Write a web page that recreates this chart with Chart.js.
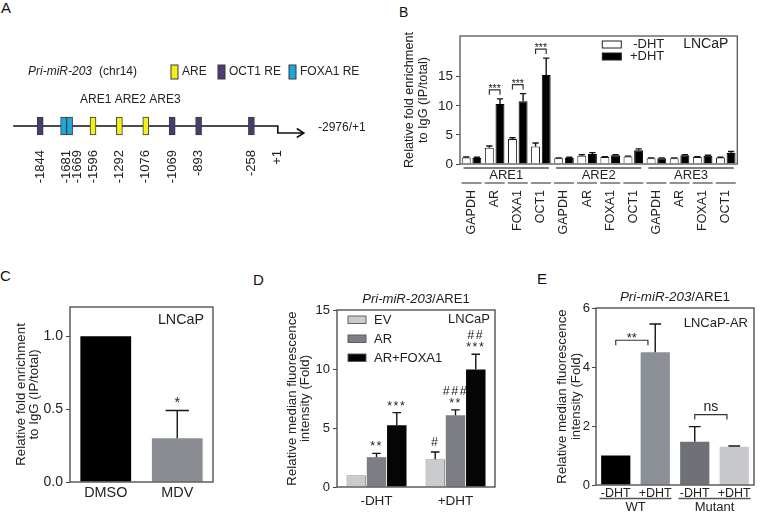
<!DOCTYPE html>
<html>
<head>
<meta charset="utf-8">
<script src="https://cdn.jsdelivr.net/npm/chart.js@4.4.1/dist/chart.umd.min.js"></script>
<style>
  html, body { margin: 0; padding: 0; background: #fff; }
  body { position: relative; width: 767px; height: 517px; overflow: hidden; font-family: "Liberation Sans", Arial, sans-serif; }
  .panel { position: absolute; }
  .tag { position: absolute; font-size: 15px; line-height: 1; color: #111; }
</style>
</head>
<body>
<div class="tag" style="left:1px;top:0px">A</div>
<div class="tag" style="left:399px;top:5px;font-size:14px">B</div>
<div class="tag" style="left:0px;top:268px">C</div>
<div class="tag" style="left:253px;top:272px">D</div>
<div class="tag" style="left:537px;top:271px">E</div>
<div class="panel" style="left:0;top:0;width:380px;height:260px"><canvas id="panelA"></canvas></div>
<div class="panel" style="left:380px;top:0;width:387px;height:260px"><canvas id="panelB"></canvas></div>
<div class="panel" style="left:0;top:260px;width:260px;height:257px"><canvas id="panelC"></canvas></div>
<div class="panel" style="left:260px;top:260px;width:270px;height:257px"><canvas id="panelD"></canvas></div>
<div class="panel" style="left:530px;top:260px;width:237px;height:257px"><canvas id="panelE"></canvas></div>
<script>
// ---------- A: response elements in the pri-miR-203 promoter (schematic slots, left to right)
const siteLabels = ['-1844', ['-1681', '-1669'], '-1596', '-1292', '-1076', '-1069', '-893', '', '-258', '+1'];
const areSites   = [0, 0, 1, 1, 1, 0, 0, 0, 0, 0];
const oct1Sites  = [1, 0, 0, 0, 0, 1, 1, 0, 1, 0];
const foxa1Sites = [0, 2, 0, 0, 0, 0, 0, 0, 0, 0]; // two adjacent FOXA1 REs

// ---------- B: ChIP, relative fold enrichment to IgG
const chipRegions = ['ARE1', 'ARE2', 'ARE3'];
const chipTargets = ['GAPDH', 'AR', 'FOXA1', 'OCT1'];
const chipMinus    = [1.1, 2.8, 4.3, 3.0,   1.0, 1.4, 1.2, 1.3,   1.0, 1.0, 1.2, 1.1];
const chipMinusErr = [0.1, 0.3, 0.2, 0.6,   0.05, 0.2, 0.05, 0.05, 0.05, 0.05, 0.05, 0.05];
const chipPlus     = [1.05, 10.3, 10.8, 15.3, 1.05, 1.7, 1.5, 2.35, 1.0, 1.5, 1.4, 1.9];
const chipPlusErr  = [0.1, 0.9, 1.3, 2.9,   0.1, 0.25, 0.1, 0.25,  0.05, 0.1, 0.1, 0.25];
const chipSig      = ['', '***', '***', '***', '', '', '', '', '', '', '', ''];

// ---------- C: ChIP after MDV treatment
const cTreat  = ['DMSO', 'MDV'];
const cValues = [1.0, 0.30];
const cErr    = [0, 0.19];
const cSig    = ['', '*'];

// ---------- D: reporter, LNCaP
const dConditions = ['-DHT', '+DHT'];
const dEV  = [1.0, 2.35],  dEVErr  = [0, 0.62],    dEVStars  = ['', ''],      dEVHash  = ['', '#'];
const dAR  = [2.53, 6.08], dARErr  = [0.32, 0.46], dARStars  = ['**', '**'],  dARHash  = ['', '###'];
const dARF = [5.23, 9.95], dARFErr = [1.07, 1.3],  dARFStars = ['***', '***'], dARFHash = ['', '##'];

// ---------- E: reporter, LNCaP-AR, WT vs mutant ARE1
const eLabels   = ['-DHT', '+DHT', '-DHT', '+DHT'];
const eGroups   = ['WT', 'Mutant'];
const eValues   = [1.0, 4.5, 1.47, 1.3];
const eErr      = [0, 0.96, 0.51, 0.02];
const eBrackets = [[0, 1, '**'], [2, 3, 'ns']];

const FAM = '"Liberation Sans", Arial, Helvetica, sans-serif';
const f = (size, style) => (style || '') + ' ' + size + 'px ' + FAM;
Chart.defaults.font.family = FAM;
Chart.defaults.color = '#222';

const base = {
  responsive: true,
  maintainAspectRatio: false,
  animation: false,
  events: []
};
const keepSteps = step => axis => {
  axis.ticks = axis.ticks.filter(t => Math.abs(t.value / step - Math.round(t.value / step)) < 1e-6);
};
const yTitle = (lines, size, lh, pad) => ({
  display: true, text: lines, color: '#222',
  font: { size: size, lineHeight: lh + 'px' }, padding: { top: pad, bottom: 0 }
});

// whiskers from bar top up to value + error
const errorBars = {
  id: 'errorBars',
  afterDatasetsDraw(chart, args, opts) {
    const ctx = chart.ctx, y = chart.scales.y;
    chart.data.datasets.forEach((ds, i) => {
      if (!ds.errors) return;
      chart.getDatasetMeta(i).data.forEach((bar, j) => {
        const e = ds.errors[j];
        if (!e) return;
        const top = y.getPixelForValue(ds.data[j] + e);
        const w = bar.width * opts.cap / 2;
        ctx.save();
        ctx.strokeStyle = '#151515';
        ctx.lineWidth = 1.4;
        ctx.beginPath();
        ctx.moveTo(bar.x, bar.y);
        ctx.lineTo(bar.x, top);
        ctx.moveTo(bar.x - w, top);
        ctx.lineTo(bar.x + w, top);
        ctx.stroke();
        ctx.restore();
      });
    });
  }
};

const frame = {
  id: 'frame',
  afterDraw(chart, args, opts) {
    const a = chart.chartArea, ctx = chart.ctx;
    ctx.save();
    ctx.strokeStyle = opts.color;
    ctx.lineWidth = 1.3;
    ctx.strokeRect(a.left, a.top, a.right - a.left, a.bottom - a.top);
    ctx.restore();
  }
};

function bracket(ctx, x1, x2, top, label, font) {
  ctx.strokeStyle = '#333';
  ctx.lineWidth = 1.2;
  ctx.beginPath();
  ctx.moveTo(x1, top + 5); ctx.lineTo(x1, top); ctx.lineTo(x2, top); ctx.lineTo(x2, top + 5);
  ctx.stroke();
  ctx.fillStyle = '#222';
  ctx.font = font;
  ctx.textAlign = 'center';
  ctx.textBaseline = 'alphabetic';
  const stars = /^\*+$/.test(label);
  ctx.fillText(label, (x1 + x2) / 2, stars ? top + 2 : top - 4);
}

function italicTitle(ctx, cx, cy, size) {
  const a = 'Pri-miR-203', b = '/ARE1';
  ctx.font = f(size, 'italic'); const wa = ctx.measureText(a).width;
  ctx.font = f(size); const wb = ctx.measureText(b).width;
  let x = cx - (wa + wb) / 2;
  ctx.fillStyle = '#222';
  ctx.textAlign = 'left';
  ctx.textBaseline = 'middle';
  ctx.font = f(size, 'italic'); ctx.fillText(a, x, cy);
  ctx.font = f(size); ctx.fillText(b, x + wa, cy);
}

// ================= A =================
const boxData = (arr, n) => arr.map(v => v >= n ? [-1, 1] : null);
new Chart(document.getElementById('panelA'), {
  type: 'bar',
  data: {
    labels: siteLabels,
    datasets: [
      { label: 'ARE', data: boxData(areSites, 1), backgroundColor: '#f3ee1c' },
      { label: 'OCT1 RE', data: boxData(oct1Sites, 1), backgroundColor: '#4b3b72' },
      { label: 'FOXA1 RE', data: boxData(foxa1Sites, 1), backgroundColor: '#1fa6dd' },
      { label: 'FOXA1 RE', data: boxData(foxa1Sites, 2), backgroundColor: '#1fa6dd' }
    ]
  },
  options: {
    ...base,
    layout: { padding: { left: 27, right: 89, top: 108, bottom: 0 } },
    datasets: { bar: { barThickness: 6, skipNull: true, borderWidth: 1, borderColor: '#3a3a3a', borderSkipped: false } },
    scales: {
      x: {
        grid: { display: false, drawTicks: false }, border: { display: false },
        ticks: { autoSkip: false, minRotation: 90, maxRotation: 90, padding: 6, color: '#222', font: { size: 13, lineHeight: '10.5px' } },
        afterFit: s => { s.height = 116; }
      },
      y: { display: false, min: -2, max: 2 }
    },
    plugins: { legend: { display: false }, tooltip: { enabled: false } }
  },
  plugins: [{
    id: 'promoter',
    beforeDatasetsDraw(chart) {
      const ctx = chart.ctx, x = chart.scales.x, y0 = chart.scales.y.getPixelForValue(0);
      const start = x.getPixelForValue(0) - 27, end = x.getPixelForValue(siteLabels.length - 1);
      ctx.save();
      ctx.strokeStyle = '#111';
      ctx.lineWidth = 1.6;
      ctx.beginPath();
      ctx.moveTo(start, y0); ctx.lineTo(end, y0); ctx.lineTo(end, y0 + 7); ctx.lineTo(end + 26, y0 + 7);
      ctx.moveTo(end + 19, y0 + 2.5); ctx.lineTo(end + 26, y0 + 7); ctx.lineTo(end + 19, y0 + 11.5);
      ctx.stroke();
      ctx.restore();
    },
    afterDraw(chart) {
      const ctx = chart.ctx, y0 = chart.scales.y.getPixelForValue(0);
      const ds = chart.data.datasets;
      ctx.save();
      ctx.fillStyle = '#222';
      ctx.textBaseline = 'middle';
      ctx.font = f(12);
      ctx.fillText('-2976/+1', 318, y0 + 2);
      ctx.fillText('ARE1 ARE2 ARE3', 80, 100);
      ctx.font = f(12, 'italic');
      ctx.fillText('Pri-miR-203', 28, 72);
      const w = ctx.measureText('Pri-miR-203').width;
      ctx.font = f(12);
      ctx.fillText('(chr14)', 28 + w + 7, 72);
      const items = [[ds[0], 171], [ds[1], 218], [ds[2], 289]];
      items.forEach(([d, lx]) => {
        ctx.fillStyle = d.backgroundColor;
        ctx.fillRect(lx, 65, 7, 14);
        ctx.strokeStyle = '#3a3a3a';
        ctx.lineWidth = 1;
        ctx.strokeRect(lx, 65, 7, 14);
        ctx.fillStyle = '#222';
        ctx.fillText(d.label, lx + 11, 72);
      });
      ctx.restore();
    }
  }]
});

// ================= B =================
new Chart(document.getElementById('panelB'), {
  type: 'bar',
  data: {
    labels: chipRegions.flatMap(() => chipTargets),
    datasets: [
      { label: '-DHT', data: chipMinus, errors: chipMinusErr, backgroundColor: '#fff', borderColor: '#222', borderWidth: 1 },
      { label: '+DHT', data: chipPlus, errors: chipPlusErr, backgroundColor: '#000', borderColor: '#000', borderWidth: 1 }
    ]
  },
  options: {
    ...base,
    layout: { padding: { left: 0, top: 36, right: 6, bottom: 0 } },
    datasets: { bar: { categoryPercentage: 0.92, barPercentage: 0.84 } },
    scales: {
      x: {
        grid: { display: false, drawTicks: false }, border: { display: false },
        ticks: { autoSkip: false, minRotation: 90, maxRotation: 90, padding: 26, color: '#222', font: { size: 12.5 } },
        afterFit: s => { s.height = 96; }
      },
      y: {
        min: 0, max: 22,
        ticks: { stepSize: 5, padding: 3, color: '#222', font: { size: 13.5 } },
        afterBuildTicks: keepSteps(5),
        grid: { drawOnChartArea: false, tickLength: 4, color: '#444' },
        border: { display: false },
        title: yTitle(['Relative fold enrichment', 'to IgG (IP/total)'], 12.7, 14, 22),
        afterFit: s => { s.width = 80; }
      }
    },
    plugins: { legend: { display: false }, tooltip: { enabled: false }, errorBars: { cap: 0.7 }, frame: { color: '#555' } }
  },
  plugins: [errorBars, frame, {
    id: 'chipDecor',
    afterDraw(chart) {
      const ctx = chart.ctx, a = chart.chartArea, x = chart.scales.x, y = chart.scales.y;
      const m0 = chart.getDatasetMeta(0).data, m1 = chart.getDatasetMeta(1).data;
      ctx.save();
      // legend
      chart.data.datasets.forEach((ds, i) => {
        const top = a.top + 5 + i * 12;
        ctx.fillStyle = ds.backgroundColor;
        ctx.fillRect(a.right - 135, top, 19, 7);
        ctx.strokeStyle = '#222';
        ctx.lineWidth = 1;
        ctx.strokeRect(a.right - 135, top, 19, 7);
        ctx.fillStyle = '#222';
        ctx.font = f(13);
        ctx.textAlign = 'right';
        ctx.textBaseline = 'middle';
        ctx.fillText(ds.label, a.right - 73, top + 3.5);
      });
      ctx.font = f(14);
      ctx.fillText('LNCaP', a.right - 9, a.top + 8);
      // significance brackets
      chipSig.forEach((s, j) => {
        if (!s) return;
        const top = Math.min(y.getPixelForValue(chipMinus[j] + chipMinusErr[j]), y.getPixelForValue(chipPlus[j] + chipPlusErr[j])) - 9;
        bracket(ctx, m0[j].x, m1[j].x, top, s, f(10.5));
      });
      // region and target underlines
      ctx.strokeStyle = '#555';
      ctx.lineWidth = 1.3;
      ctx.fillStyle = '#222';
      ctx.font = f(13);
      ctx.textAlign = 'center';
      ctx.textBaseline = 'middle';
      chipRegions.forEach((r, g) => {
        const x1 = x.getPixelForValue(g * 4) - 8, x2 = x.getPixelForValue(g * 4 + 3) + 8;
        ctx.beginPath(); ctx.moveTo(x1, a.bottom + 4); ctx.lineTo(x2, a.bottom + 4); ctx.stroke();
        ctx.fillText(r, (x1 + x2) / 2, a.bottom + 11.5);
      });
      x.ticks.forEach((t, i) => {
        const cx = x.getPixelForValue(i);
        ctx.beginPath(); ctx.moveTo(cx - 10, a.bottom + 19); ctx.lineTo(cx + 10, a.bottom + 19); ctx.stroke();
      });
      ctx.restore();
    }
  }]
});

// ================= C =================
new Chart(document.getElementById('panelC'), {
  type: 'bar',
  data: {
    labels: cTreat,
    datasets: [{ data: cValues, errors: cErr, backgroundColor: ['#000', '#8a8e94'] }]
  },
  options: {
    ...base,
    layout: { padding: { left: 0, top: 47, right: 47, bottom: 0 } },
    datasets: { bar: { categoryPercentage: 1, barPercentage: 0.71 } },
    scales: {
      x: {
        grid: { display: false, drawTicks: false }, border: { display: false },
        ticks: { padding: 2.5, color: '#222', font: { size: 14.4 } },
        afterFit: s => { s.height = 35; }
      },
      y: {
        min: 0, max: 1.2,
        ticks: { stepSize: 0.5, padding: 3, color: '#222', font: { size: 14 }, callback: v => v.toFixed(1) },
        afterBuildTicks: keepSteps(0.5),
        grid: { drawOnChartArea: false, tickLength: 4, color: '#444' },
        border: { display: false },
        title: yTitle(['Relative fold enrichment', 'to IgG (IP/total)'], 13.3, 13, 14.5),
        afterFit: s => { s.width = 70; }
      }
    },
    plugins: { legend: { display: false }, tooltip: { enabled: false }, errorBars: { cap: 0.46 }, frame: { color: '#444' } }
  },
  plugins: [errorBars, frame, {
    id: 'cDecor',
    afterDraw(chart) {
      const ctx = chart.ctx, a = chart.chartArea, y = chart.scales.y;
      const bars = chart.getDatasetMeta(0).data;
      ctx.save();
      ctx.fillStyle = '#222';
      ctx.font = f(14.3);
      ctx.textAlign = 'right';
      ctx.textBaseline = 'middle';
      ctx.fillText('LNCaP', a.right - 9, a.top + 13);
      ctx.textAlign = 'center';
      ctx.textBaseline = 'alphabetic';
      cSig.forEach((s, j) => {
        if (s) ctx.fillText(s, bars[j].x, y.getPixelForValue(cValues[j] + cErr[j]) - 3.5);
      });
      ctx.restore();
    }
  }]
});

// ================= D =================
new Chart(document.getElementById('panelD'), {
  type: 'bar',
  data: {
    labels: dConditions,
    datasets: [
      { label: 'EV', data: dEV, errors: dEVErr, stars: dEVStars, hashes: dEVHash, backgroundColor: '#c9cbce', borderColor: '#8d9094', borderWidth: 1 },
      { label: 'AR', data: dAR, errors: dARErr, stars: dARStars, hashes: dARHash, backgroundColor: '#7b7e83' },
      { label: 'AR+FOXA1', data: dARF, errors: dARFErr, stars: dARFStars, hashes: dARFHash, backgroundColor: '#050505' }
    ]
  },
  options: {
    ...base,
    layout: { padding: { left: 0, top: 50, right: 35, bottom: 0 } },
    datasets: { bar: { categoryPercentage: 0.77, barPercentage: 0.96 } },
    scales: {
      x: {
        grid: { display: false, drawTicks: false }, border: { display: false },
        ticks: { padding: 6, maxRotation: 0, color: '#222', font: { size: 13.5 } },
        afterFit: s => { s.height = 30; }
      },
      y: {
        min: 0, max: 15,
        ticks: { stepSize: 5, padding: 3, color: '#222', font: { size: 13 } },
        grid: { drawOnChartArea: false, tickLength: 4, color: '#444' },
        border: { display: false },
        title: yTitle(['Relative median fluorescence', 'intensity (Fold)'], 13.3, 13, 25.5),
        afterFit: s => { s.width = 77; }
      }
    },
    plugins: { legend: { display: false }, tooltip: { enabled: false }, errorBars: { cap: 0.44 }, frame: { color: '#444' } }
  },
  plugins: [errorBars, frame, {
    id: 'dDecor',
    afterDraw(chart) {
      const ctx = chart.ctx, a = chart.chartArea, y = chart.scales.y;
      ctx.save();
      italicTitle(ctx, (a.left + a.right) / 2, a.top - 11, 13.1);
      chart.data.datasets.forEach((ds, i) => {
        const top = a.top + 6 + i * 19;
        ctx.fillStyle = ds.backgroundColor;
        ctx.fillRect(a.left + 11, top, 18, 7.5);
        ctx.strokeStyle = '#555';
        ctx.lineWidth = 0.9;
        ctx.strokeRect(a.left + 11, top, 18, 7.5);
        ctx.fillStyle = '#222';
        ctx.font = f(13);
        ctx.textAlign = 'left';
        ctx.textBaseline = 'middle';
        ctx.fillText(ds.label, a.left + 37, top + 4);
      });
      ctx.textAlign = 'right';
      ctx.fillText('LNCaP', a.right - 5, a.top + 9);
      ctx.textAlign = 'center';
      ctx.textBaseline = 'alphabetic';
      ctx.font = f(12.5);
      if ('letterSpacing' in ctx) ctx.letterSpacing = '1.5px';
      chart.data.datasets.forEach((ds, i) => {
        chart.getDatasetMeta(i).data.forEach((bar, j) => {
          const top = y.getPixelForValue(ds.data[j] + ds.errors[j]);
          let base = top - 3;
          if (ds.stars[j]) { ctx.fillText(ds.stars[j], bar.x, base); base -= 12; }
          else base = top - 6;
          if (ds.hashes[j]) ctx.fillText(ds.hashes[j], bar.x, base);
        });
      });
      ctx.restore();
    }
  }]
});

// ================= E =================
new Chart(document.getElementById('panelE'), {
  type: 'bar',
  data: {
    labels: eLabels,
    datasets: [{ data: eValues, errors: eErr, backgroundColor: ['#000', '#8b9096', '#6e7176', '#c6c8cb'] }]
  },
  options: {
    ...base,
    layout: { padding: { left: 0, top: 48, right: 13, bottom: 0 } },
    datasets: { bar: { categoryPercentage: 1, barPercentage: 0.74 } },
    scales: {
      x: {
        grid: { display: false, drawTicks: false }, border: { display: false },
        ticks: { padding: 1, autoSkip: false, maxRotation: 0, color: '#222', font: { size: 12.5 } },
        afterFit: s => { s.height = 32; }
      },
      y: {
        min: 0, max: 6,
        ticks: { stepSize: 2, padding: 2, color: '#222', font: { size: 13 } },
        grid: { drawOnChartArea: false, tickLength: 4, color: '#444' },
        border: { display: false },
        title: yTitle(['Relative median fluorescence', 'intensity (Fold)'], 13.3, 13.5, 25.75),
        afterFit: s => { s.width = 66; }
      }
    },
    plugins: { legend: { display: false }, tooltip: { enabled: false }, errorBars: { cap: 0.4 }, frame: { color: '#444' } }
  },
  plugins: [errorBars, frame, {
    id: 'eDecor',
    afterDraw(chart) {
      const ctx = chart.ctx, a = chart.chartArea, x = chart.scales.x, y = chart.scales.y;
      const bars = chart.getDatasetMeta(0).data;
      ctx.save();
      italicTitle(ctx, (a.left + a.right) / 2, a.top - 11, 13.4);
      ctx.fillStyle = '#222';
      ctx.font = f(13);
      ctx.textAlign = 'right';
      ctx.textBaseline = 'middle';
      ctx.fillText('LNCaP-AR', a.right - 6, a.top + 15);
      eBrackets.forEach(([i, j, s]) => {
        const lv = y.getPixelForValue(eValues[i] + eErr[i]);
        const rv = y.getPixelForValue(eValues[j]);
        const top = Math.min(lv, rv) - 12;
        bracket(ctx, bars[i].x, bars[j].x - bars[j].width / 4, top, s, s === 'ns' ? f(14) : f(13));
      });
      ctx.strokeStyle = '#555';
      ctx.lineWidth = 1.3;
      ctx.fillStyle = '#222';
      ctx.font = f(13);
      ctx.textAlign = 'center';
      ctx.textBaseline = 'middle';
      eGroups.forEach((g, k) => {
        const cx = (x.getPixelForValue(2 * k) + x.getPixelForValue(2 * k + 1)) / 2;
        ctx.beginPath(); ctx.moveTo(cx - 36, a.bottom + 13.5); ctx.lineTo(cx + 36, a.bottom + 13.5); ctx.stroke();
        ctx.fillText(g, cx, a.bottom + 22);
      });
      ctx.restore();
    }
  }]
});
</script>
</body>
</html>
